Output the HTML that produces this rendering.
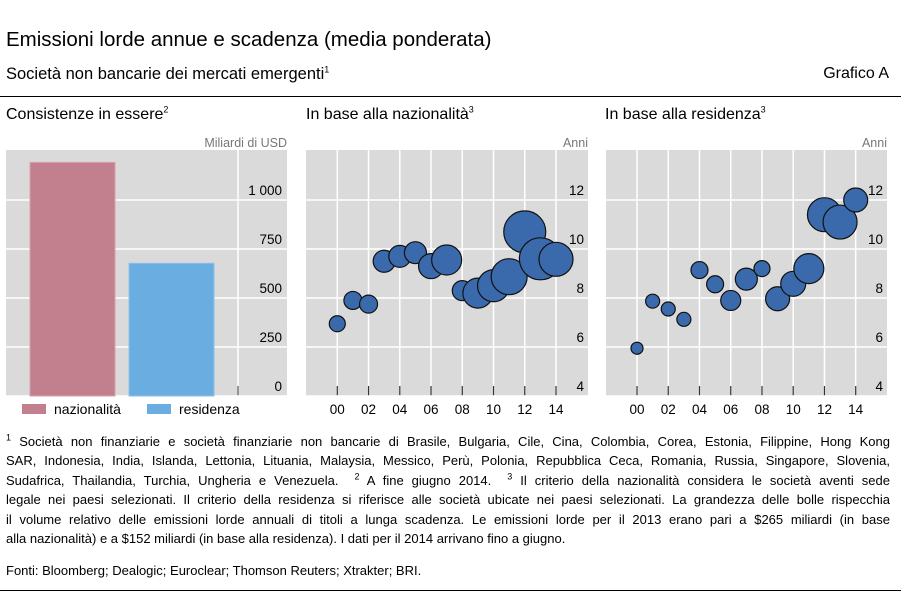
<!DOCTYPE html>
<html><head><meta charset="utf-8"><style>
body{margin:0;width:901px;height:602px;background:#fff;font-family:"Liberation Sans",sans-serif;color:#000;position:relative;overflow:hidden}
.a{position:absolute;white-space:nowrap}
sup{font-size:9px;line-height:0}
.fn{position:absolute;left:6px;width:884px;font-size:13px;line-height:19.4px}
.fn div{text-align:justify;text-align-last:justify;white-space:nowrap}
.fn div.last{text-align-last:left}
</style></head><body>
<div class="a" style="left:6px;top:28px;font-size:20.5px">Emissioni lorde annue e scadenza (media ponderata)</div>
<div class="a" style="left:6px;top:65px;font-size:16.5px">Società non bancarie dei mercati emergenti<sup>1</sup></div>
<div class="a" style="right:12px;top:65px;font-size:16px">Grafico A</div>
<div class="a" style="left:0;top:96px;width:901px;height:1px;background:#000"></div>
<div class="a" style="left:6px;top:106px;font-size:16px">Consistenze in essere<sup>2</sup></div>
<div class="a" style="left:306px;top:106px;font-size:16px">In base alla nazionalità<sup>3</sup></div>
<div class="a" style="left:605px;top:106px;font-size:16px">In base alla residenza<sup>3</sup></div>
<svg class="a" style="left:0;top:0" width="901" height="430" font-family="Liberation Sans, sans-serif"></svg>
<div class="fn" style="top:432px">
<div><sup>1</sup> Società non finanziarie e società finanziarie non bancarie di Brasile, Bulgaria, Cile, Cina, Colombia, Corea, Estonia, Filippine, Hong Kong</div>
<div>SAR, Indonesia, India, Islanda, Lettonia, Lituania, Malaysia, Messico, Perù, Polonia, Repubblica Ceca, Romania, Russia, Singapore, Slovenia,</div>
<div>Sudafrica, Thailandia, Turchia, Ungheria e Venezuela. &nbsp;<sup>2</sup> A fine giugno 2014. &nbsp;<sup>3</sup> Il criterio della nazionalità considera le società aventi sede</div>
<div>legale nei paesi selezionati. Il criterio della residenza si riferisce alle società ubicate nei paesi selezionati. La grandezza delle bolle rispecchia</div>
<div>il volume relativo delle emissioni lorde annuali di titoli a lunga scadenza. Le emissioni lorde per il 2013 erano pari a $265 miliardi (in base</div>
<div class="last">alla nazionalità) e a $152 miliardi (in base alla residenza). I dati per il 2014 arrivano fino a giugno.</div>
</div>
<div class="fn" style="top:561px">Fonti: Bloomberg; Dealogic; Euroclear; Thomson Reuters; Xtrakter; BRI.</div>
<div class="a" style="left:0;top:590px;width:901px;height:1px;background:#000"></div>
<script>
const barCats=['nazionalità','residenza'];
const barVals=[1192,677];
const barTicks=[0,250,500,750,1000];
const years=[0,1,2,3,4,5,6,7,8,9,10,11,12,13,14];
const natMat=[6.95,7.9,7.75,9.5,9.7,9.85,9.3,9.55,8.3,8.2,8.5,8.87,10.7,9.6,9.58];
const natSize=[8,9,9,11,11,11,12.5,15,10,15,16,18,21,21,17];
const resMat=[5.95,7.87,7.55,7.13,9.14,8.56,7.9,8.77,9.2,7.97,8.58,9.2,11.4,11.1,12.0];
const resSize=[6,7,7,7,8.5,8.5,10,11,8,12,12.5,15,17,17,12];
const yTicks=[4,6,8,10,12];
const xTicks=[0,2,4,6,8,10,12,14];
const svg=document.querySelector('svg');const NS='http://www.w3.org/2000/svg';
function el(t,a,p){const e=document.createElementNS(NS,t);for(const k in a)e.setAttribute(k,a[k]);(p||svg).appendChild(e);return e;}
function txt(x,y,s,anchor,size,fill){const e=el('text',{x:x,y:y,'text-anchor':anchor||'start','font-size':size||13,fill:fill||'#000'});e.textContent=s;return e;}
const pTop=150,pBot=396;
const L0=6,L1=287;
let bg=el('rect',{x:L0,y:pTop,width:L1-L0,height:pBot-pTop,fill:'#dadada'});


const by=v=>pBot-v*(pBot-200)/1000;
barTicks.forEach(v=>{if(v>0)el('line',{x1:L0,x2:L1,y1:by(v),y2:by(v),stroke:'#fff','stroke-width':1.5});
 const t=txt(282,by(v)-5,v>=1000?'1 000':String(v),'end',13.5);
 
 });
el('line',{x1:238,x2:238,y1:pTop,y2:pBot,stroke:'#fff','stroke-width':1.5});
el('line',{x1:238,x2:238,y1:pBot-10,y2:pBot,stroke:'#777','stroke-width':1.5});
el('line',{x1:L0,x2:L1,y1:pBot,y2:pBot,stroke:'#fff','stroke-width':1.5});
const barCols=['#c27f8d','#6aade0'],barX=[30,129];
barVals.forEach((v,i)=>{const r=el('rect',{x:barX[i],y:by(v),width:85,height:pBot-by(v),fill:barCols[i],stroke:i?'#8fc0e6':'#d7a3ae'});
 
 
 const lx=[22,147][i];el('rect',{x:lx,y:404,width:24,height:10,fill:barCols[i]});
 const t=txt(lx+32,414,barCats[i],'start',14);
 
 });
txt(287,147,'Miliardi di USD','end',12.5,'#777');
function bubble(x0,x1,xa,xb,mat,size,name){
 const sx=y=>xa+(xb-xa)*y/14, sy=v=>200+(12-v)*24.5;
 const b=el('rect',{x:x0,y:pTop,width:x1-x0,height:pBot-pTop,fill:'#dadada'});
 
 
 yTicks.forEach(v=>{if(v>4)el('line',{x1:x0,x2:x1,y1:sy(v),y2:sy(v),stroke:'#fff','stroke-width':1.5});
  const t=txt(x1-4,sy(v)-5,String(v),'end',13.5);
  
  });
 xTicks.forEach(v=>{el('line',{x1:sx(v),x2:sx(v),y1:pTop,y2:pBot,stroke:'#fff','stroke-width':1.5});
  el('line',{x1:sx(v),x2:sx(v),y1:pBot-10,y2:pBot,stroke:'#333','stroke-width':1.2});
  const t=txt(sx(v),414,String(v).padStart(2,'0'),'middle',13.5);
  
  });
 el('line',{x1:x0,x2:x1,y1:pBot,y2:pBot,stroke:'#fff','stroke-width':1.5});
 txt(x1,147,'Anni','end',12.5,'#777');
 years.forEach((y,i)=>{const c=el('circle',{cx:sx(y),cy:sy(mat[i]),r:size[i],fill:'#3a6aab',stroke:'#111','stroke-width':1.2});
  
  });
}
bubble(306,588,337.3,556,natMat,natSize,'nationality');
bubble(606,887,637,855.7,resMat,resSize,'residence');
</script>
</body></html>
